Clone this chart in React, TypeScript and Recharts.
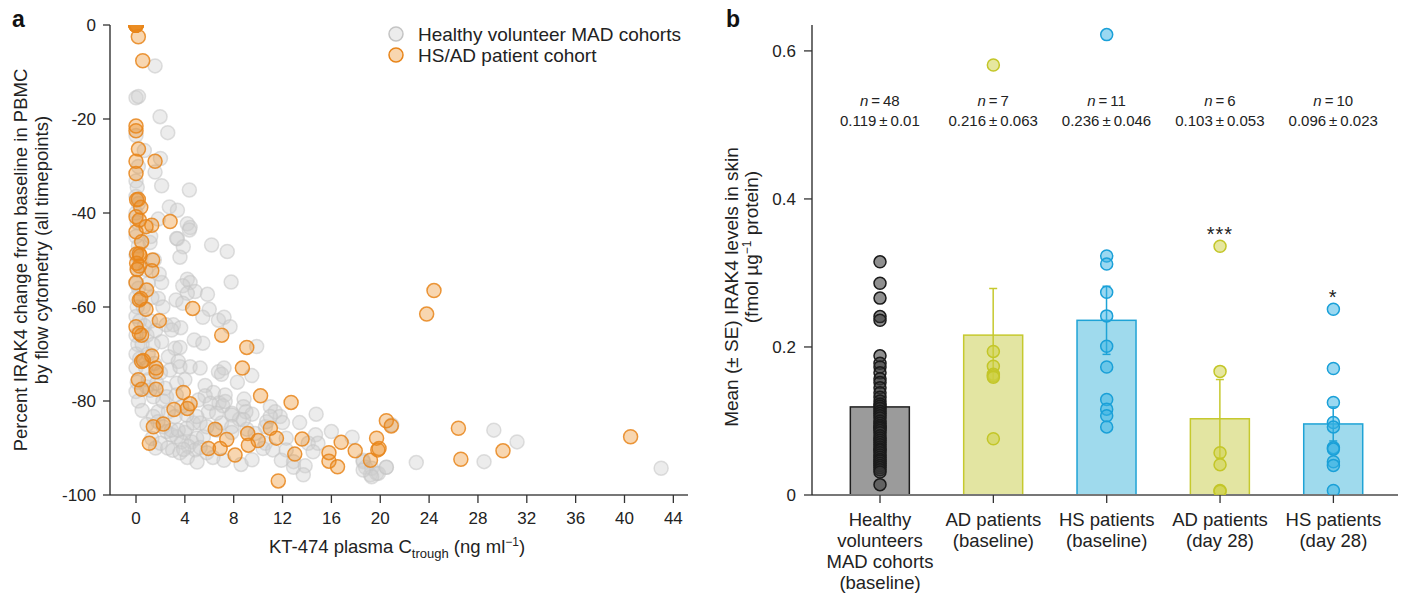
import React from 'react';
import { ScatterChart, ComposedChart, Scatter, Bar, XAxis, YAxis } from 'recharts';

const FONT = '"Liberation Sans", Arial, sans-serif';
const INK = '#222';

// ---- panel a: plasma Ctrough (ng/ml) vs % IRAK4 change ----
const xTicksA = [0, 4, 8, 12, 16, 20, 24, 28, 32, 36, 40, 44];
const yTicksA = [0, -20, -40, -60, -80, -100];

const healthyPts = [
  [1.56, -8.7], [0, -15.5], [0.2, -15.2], [1.97, -19.5], [2.6, -22.9], [0, -23.5], [0.68, -26.7], [2.0, -28.4],
  [0.19, -30.1], [1.56, -31.3], [0, -33.2], [0.1, -34.5], [0, -36.5], [0.2, -38], [2.1, -34.2], [4.37, -35.1],
  [2.73, -38.7], [3.39, -39.4], [1.82, -41.3], [4.2, -42.3], [4.43, -43.1], [3.39, -45.5], [1.15, -46.3], [3.87, -47.2],
  [6.19, -46.8], [7.47, -48.2], [3.33, -45.4], [4.37, -43.6], [3.6, -49.4], [1.2, -45],
  [2.1, -54.8], [4.2, -54.1], [4.43, -54.8], [3.83, -55.5], [4.84, -56.7], [4.2, -57.1], [7.79, -54.7], [5.85, -57.3],
  [3.28, -58.5], [3.83, -59.2], [1.82, -58.2], [6.0, -60.5], [5.47, -62.2], [6.75, -62.8], [7.21, -62.2], [7.7, -64.2],
  [2.46, -63.8], [3.06, -63.8], [3.66, -64.4], [2.91, -64.9], [4.77, -67], [5.47, -67.7], [9.88, -68.4], [2.1, -67.4],
  [3.2, -68.8], [3.6, -68.6], [2.65, -70.6], [3.46, -71.6], [2.79, -73.4], [3.6, -72.7], [4.43, -72.7], [5.25, -73],
  [6.75, -73.8], [7.21, -73], [7.0, -74.3], [9.48, -74.6], [8.3, -76], [4.0, -75.5], [3.33, -76.2], [5.66, -76.7],
  [6.34, -78.2], [5.66, -78.9], [5.11, -79.8], [7.3, -78.7], [6.8, -80.4], [7.1, -81], [8.85, -79.6], [8.8, -81.2],
  [9.5, -82.8], [7.84, -82.6], [8.47, -83.9], [9.0, -82.3], [11.0, -81.2], [11.4, -82.3], [11.8, -83.3], [12.0, -84.6],
  [13.4, -84.6], [14.75, -82.8], [16.0, -86.5], [17.7, -87.7], [14.7, -87.2], [14.1, -89], [14.9, -89], [12.3, -87.9],
  [12.3, -90.4], [10.6, -89], [10.4, -90.1], [11.2, -90.4], [11.9, -92.6], [12.9, -92.9], [12.9, -94.1], [13.85, -93.8],
  [13.7, -95.7], [14.5, -90.8], [18.6, -92.6], [18.8, -94.1], [19.2, -95.7], [19.7, -95.4], [20.5, -94.1], [4.0, -86.7],
  [3.33, -87.6], [3.74, -88.7], [4.56, -88.7], [4.97, -87.9], [5.52, -87.6], [4.29, -89.7], [4.84, -90.4], [5.25, -89.9],
  [5.8, -91], [2.5, -86.5], [2.9, -87.2], [6.6, -86.2], [7.0, -84.7], [7.84, -83], [7.84, -85.5], [7.84, -86.7],
  [6.07, -80.5], [5.93, -82.3], [6.6, -82.6], [7.3, -80.1], [9.07, -86], [8.8, -84], [9.75, -86.9], [10.6, -85.5],
  [10.7, -84.4], [11.0, -83.3], [1.8, -82.3], [1.42, -83.3], [1.8, -84.4], [2.23, -85.5], [1.42, -79.1], [1.15, -77.7],
  [0.87, -77], [1.0, -75.5], [1.7, -76.2], [2.38, -77.3], [2.5, -79.1], [3.3, -78.7], [2.65, -82.3], [3.2, -83.3],
  [2.9, -86.2], [3.46, -86.2], [4.15, -85.8], [4.7, -84.7], [5.25, -84.7], [5.8, -85.5], [4.97, -83.3], [4.15, -83],
  [3.74, -81.2], [7.2, -92.6], [6.3, -92], [8.6, -93.5], [9.5, -92.5],
  [20.95, -85.1], [18.6, -92.9], [19.3, -94.3], [19.85, -95.4], [19.3, -96.1], [20.5, -94.1], [18.6, -94.7], [22.95, -93.1],
  [28.5, -92.9], [29.3, -86.2], [31.2, -88.7], [43.0, -94.3],
  [0, -40], [0.1, -42], [0, -45], [0.2, -47], [0, -49], [0.1, -52], [0, -55], [0.2, -56], [0, -58], [0.1, -60],
  [0, -62], [0.3, -63], [0, -66], [0.15, -68], [0, -70], [0.3, -71], [0, -73], [0.1, -76], [0, -78], [0.2, -80],
  [0.6, -60], [0.7, -64], [0.5, -68], [0.9, -66], [1.2, -63], [1.0, -70], [0.8, -73], [1.4, -68], [1.6, -65], [1.3, -58],
  [1.0, -55], [0.8, -52], [1.5, -50], [1.9, -53], [2.2, -60], [0.5, -82], [0.9, -85], [1.3, -88], [1.6, -90], [2.0, -89],
  [2.6, -90], [3.0, -90.5], [3.6, -91], [4.2, -92], [5.0, -93], [3.9, -90.3], [2.2, -80], [2.0, -74], [1.5, -72],
];

const patientPts = [
  [0, 0], [0, 0], [0, 0], [0, 0], [0, 0], [0, 0], [0, 0], [0, 0],
  [0.19, -2.5], [0.55, -7.6], [0, -21.5], [0, -22.5], [0.2, -26.4], [1.56, -29], [0, -29], [0, -31.6],
  [0.05, -37.2], [0.19, -37.1], [0.39, -38.8], [0, -40.8], [0.27, -41.5], [1.29, -42.6], [2.79, -41.8], [0.82, -42.9],
  [0, -44], [0.46, -46.1], [0.05, -48.7], [0.27, -48.7], [0.33, -49.1], [1.36, -50], [0.05, -50.7], [0.27, -51.3],
  [0.1, -52], [1.29, -52.3], [0, -54.8], [0.87, -56.4], [0.27, -58.5], [0.39, -58.2], [0.82, -60.5], [4.64, -60.3],
  [1.91, -62.9], [0, -64.2], [0.27, -65.6], [0.46, -66], [7.02, -66], [9.07, -68.6], [1.29, -70.4], [0.6, -71.4],
  [0.46, -71.6], [1.64, -73], [1.64, -73.8], [8.71, -73], [0.19, -75.5], [0.46, -77.5], [1.64, -77.5], [3.87, -78.2],
  [10.2, -78.9], [12.7, -80.3], [4.43, -80.6], [4.2, -81.6], [3.11, -81.8], [2.23, -84.9], [1.42, -85.5], [1.09, -89],
  [6.48, -86], [7.43, -88.2], [9.15, -86.9], [9.2, -89.4], [10.0, -88.4], [11.0, -85.8], [11.5, -87.9], [5.93, -90.1],
  [6.89, -90.1], [8.11, -91.5], [13.0, -91.3], [13.6, -88.1], [11.65, -97], [15.8, -91], [15.8, -92.8], [16.5, -94],
  [16.8, -88.8], [17.95, -90.6], [19.2, -92.6], [19.7, -87.9], [19.8, -90.4], [19.9, -90.1], [20.5, -84.2], [20.9, -85.3],
  [26.4, -85.8], [26.6, -92.4], [30.05, -90.6], [40.5, -87.6], [24.4, -56.5], [23.8, -61.5],
];

// ---- panel b: IRAK4 in skin ----
const groups = [
  ['Healthy', 'volunteers', 'MAD cohorts', '(baseline)'],
  ['AD patients', '(baseline)'],
  ['HS patients', '(baseline)'],
  ['AD patients', '(day 28)'],
  ['HS patients', '(day 28)'],
];
const means = [0.119, 0.216, 0.236, 0.103, 0.096];
const ses = [0.01, 0.063, 0.046, 0.053, 0.023];
const counts = [48, 7, 11, 6, 10];
const meanText = ['0.119\u2009±\u20090.01', '0.216\u2009±\u20090.063', '0.236\u2009±\u20090.046', '0.103\u2009±\u20090.053', '0.096\u2009±\u20090.023'];
const stars = ['', '', '', '***', '*'];

const healthySkin = [
  0.315, 0.286, 0.266, 0.241, 0.236, 0.188, 0.178, 0.173, 0.165, 0.157, 0.152, 0.145, 0.138, 0.132, 0.127, 0.123,
  0.12, 0.117, 0.113, 0.11, 0.107, 0.104, 0.1, 0.097, 0.094, 0.092, 0.09, 0.087, 0.084, 0.08, 0.077, 0.074,
  0.071, 0.068, 0.065, 0.062, 0.06, 0.057, 0.054, 0.051, 0.048, 0.046, 0.043, 0.04, 0.037, 0.034, 0.031, 0.014,
];
const adBase = [0.581, 0.194, 0.174, 0.163, 0.161, 0.159, 0.076];
const hsBase = [0.622, 0.323, 0.312, 0.274, 0.242, 0.201, 0.173, 0.129, 0.116, 0.107, 0.092];
const adDay28 = [0.336, 0.167, 0.057, 0.041, 0.006, 0.005];
const hsDay28 = [0.251, 0.171, 0.125, 0.098, 0.092, 0.064, 0.062, 0.045, 0.04, 0.006];

const barFill = ['#9b9b9b', '#e3e5a2', '#9fdaed', '#e3e5a2', '#9fdaed'];
const barStroke = ['#1e1e1e', '#c6c92e', '#1fa3d6', '#c6c92e', '#1fa3d6'];

const barRows = means.map((m, i) => ({ x: i, mean: m, se: ses[i] }));
const toSkin = (vals: number[], i: number) => vals.map((v) => ({ x: i, v }));
const skinSets = [healthySkin, adBase, hsBase, adDay28, hsDay28];

const dotA = (stroke: string, fill: string, op: number, sop: number) => (p: any) => (
  <circle cx={p.cx} cy={p.cy} r={7} fill={fill} fillOpacity={op} stroke={stroke} strokeOpacity={sop} strokeWidth={1.5} />
);
const grayDot = dotA('#c4c4c4', '#d0d0d0', 0.4, 0.55);
const orangeDot = dotA('#e8851a', '#ec8a1c', 0.35, 0.85);

const skinDot = (stroke: string, fill: string, op: number) => (p: any) => (
  <circle cx={p.cx} cy={p.cy} r={6} fill={fill} fillOpacity={op} stroke={stroke} strokeWidth={1.5} />
);
const skinDots = [
  skinDot('#1a1a1a', '#333', 0.55),
  skinDot('#c3c628', '#cdd040', 0.5),
  skinDot('#1aa0d8', '#36b2e4', 0.5),
  skinDot('#c3c628', '#cdd040', 0.5),
  skinDot('#1aa0d8', '#36b2e4', 0.5),
];

const BarWithErr = (props: any) => {
  const { x, y, width, height, index } = props;
  const i = index;
  const k = height / means[i]; // px per unit, taken from the bar's own scale
  const cx = x + width / 2;
  const top = y - ses[i] * k;
  const bot = y + ses[i] * k;
  const base = y + height;
  const maxV = Math.max(...skinSets[i]);
  return (
    <g>
      <rect x={x} y={y} width={width} height={height} fill={barFill[i]} stroke={barStroke[i]} strokeWidth={1.5} />
      <line x1={cx} x2={cx} y1={top} y2={bot} stroke={barStroke[i]} strokeWidth={1.5} />
      <line x1={cx - 4} x2={cx + 4} y1={top} y2={top} stroke={barStroke[i]} strokeWidth={1.5} />
      <line x1={cx - 4} x2={cx + 4} y1={bot} y2={bot} stroke={barStroke[i]} strokeWidth={1.5} />
      <text x={cx} y={106} textAnchor="middle" fontSize={15} fill={INK} fontFamily={FONT}>
        <tspan fontStyle="italic">n</tspan>
        {'\u2009=\u2009' + counts[i]}
      </text>
      <text x={cx} y={126} textAnchor="middle" fontSize={15} fill={INK} fontFamily={FONT}>
        {meanText[i]}
      </text>
      {stars[i] && (
        <text x={cx} y={base - maxV * k - 5} textAnchor="middle" fontSize={20} letterSpacing={1} fill={INK} fontFamily={FONT}>
          {stars[i]}
        </text>
      )}
    </g>
  );
};

const CatTick = (props: any) => {
  const { x, y, payload } = props;
  const lines = groups[payload.value] || [];
  return (
    <text x={x} y={y} textAnchor="middle" fontSize={18.5} fill={INK} fontFamily={FONT}>
      {lines.map((l, j) => (
        <tspan key={j} x={x} dy={j === 0 ? 14 : 21}>{l}</tspan>
      ))}
    </text>
  );
};

const LeftYTitle = () => (
  <g fontSize={18.5} fill={INK} fontFamily={FONT} textAnchor="middle">
    <text transform="translate(27,260) rotate(-90)">Percent IRAK4 change from baseline in PBMC</text>
    <text transform="translate(48,250) rotate(-90)">by flow cytometry (all timepoints)</text>
  </g>
);

const LeftXTitle = () => (
  <text x={397} y={553} textAnchor="middle" fontSize={18.5} fill={INK} fontFamily={FONT}>
    KT-474 plasma C<tspan fontSize={13} dy={5}>trough</tspan>
    <tspan dy={-5}> (ng ml</tspan>
    <tspan fontSize={12} dy={-7}>−1</tspan>
    <tspan dy={7}>)</tspan>
  </text>
);

const RightYTitle = () => (
  <g fontSize={19} fill={INK} fontFamily={FONT} textAnchor="middle">
    <text transform="translate(38,287) rotate(-90)">Mean (± SE) IRAK4 levels in skin</text>
    <text transform="translate(58,247) rotate(-90)">
      (fmol µg<tspan fontSize={12} dy={-7}>−1</tspan>
      <tspan dy={7}> protein)</tspan>
    </text>
  </g>
);

const axisLine = { stroke: '#777', strokeWidth: 2 };
const yLine = { stroke: '#222', strokeWidth: 1.3 };
const tickLine = { stroke: '#333', strokeWidth: 1.3 };
const tickStyle = { fill: INK, fontSize: 17, fontFamily: FONT };

export default function App() {
  return (
    <div style={{ position: 'absolute', left: 0, top: 0, width: 1401, height: 594, background: '#fff', fontFamily: FONT, overflow: 'hidden' }}>
      <div style={{ position: 'absolute', left: 0, top: 0 }}>
        <ScatterChart width={700} height={594} margin={{ top: 25, right: 12, bottom: 0, left: 0 }}>
          <XAxis
            type="number" dataKey="x" domain={[-2.13, 45.2]} ticks={xTicksA} allowDataOverflow
            height={99} tickSize={8} tickMargin={9} axisLine={axisLine} tickLine={tickLine} tick={tickStyle}
            label={<LeftXTitle />}
          />
          <YAxis
            type="number" dataKey="y" domain={[-100, 0]} ticks={yTicksA} allowDataOverflow
            width={110} tickSize={7} tickMargin={7} axisLine={yLine} tickLine={tickLine} tick={tickStyle}
            label={<LeftYTitle />}
          />
          <Scatter name="Healthy volunteer MAD cohorts" data={healthyPts.map(([x, y]) => ({ x, y }))} shape={grayDot} isAnimationActive={false} />
          <Scatter name="HS/AD patient cohort" data={patientPts.map(([x, y]) => ({ x, y }))} shape={orangeDot} isAnimationActive={false} />
        </ScatterChart>
      </div>

      {/* legend of panel a */}
      <svg style={{ position: 'absolute', left: 385, top: 22 }} width={310} height={46}>
        <circle cx={11} cy={12} r={7} fill="#d0d0d0" fillOpacity={0.4} stroke="#c4c4c4" strokeWidth={1.5} />
        <text x={33} y={18.5} fontSize={19} fill={INK} fontFamily={FONT}>Healthy volunteer MAD cohorts</text>
        <circle cx={11} cy={33} r={7} fill="#ec8a1c" fillOpacity={0.35} stroke="#e8851a" strokeWidth={1.5} />
        <text x={33} y={39.5} fontSize={19} fill={INK} fontFamily={FONT}>HS/AD patient cohort</text>
      </svg>

      <div style={{ position: 'absolute', left: 700, top: 0 }}>
        <ComposedChart width={701} height={594} data={barRows} margin={{ top: 25, right: 3, bottom: 0, left: 0 }}>
          <XAxis
            type="number" dataKey="x" domain={[-0.6, 4.57]} ticks={[0, 1, 2, 3, 4]} allowDataOverflow interval={0}
            height={99} tickSize={8} tickMargin={9} axisLine={axisLine} tickLine={tickLine} tick={<CatTick />}
          />
          <YAxis
            type="number" domain={[0, 0.635]} ticks={[0, 0.2, 0.4, 0.6]} allowDataOverflow
            width={112} tickSize={8} tickMargin={8} axisLine={yLine} tickLine={tickLine} tick={tickStyle}
            label={<RightYTitle />}
          />
          <Bar dataKey="mean" barSize={59} shape={<BarWithErr />} isAnimationActive={false} />
          {skinSets.map((vals, i) => (
            <Scatter key={i} data={toSkin(vals, i)} dataKey="v" shape={skinDots[i]} isAnimationActive={false} />
          ))}
        </ComposedChart>
      </div>

      <div style={{ position: 'absolute', left: 12, top: 6, fontSize: 23, fontWeight: 700, color: '#111' }}>a</div>
      <div style={{ position: 'absolute', left: 726, top: 6, fontSize: 23, fontWeight: 700, color: '#111' }}>b</div>
    </div>
  );
}
